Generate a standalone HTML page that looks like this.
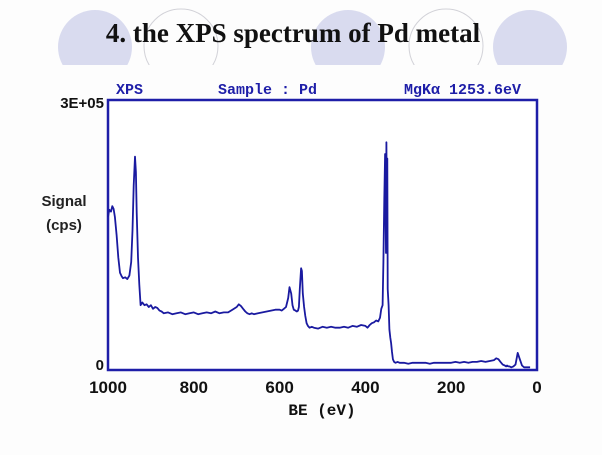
<!DOCTYPE html>
<html><head><meta charset="utf-8"><style>
body{margin:0;background:#fff;}
svg{display:block;}
</style></head><body>
<svg width="602" height="455" viewBox="0 0 602 455" xmlns="http://www.w3.org/2000/svg">
<rect x="0" y="0" width="602" height="455" fill="#fdfdfd"/>
<g>
<clipPath id="bc"><rect x="0" y="0" width="602" height="65"/></clipPath>
<g clip-path="url(#bc)">
<circle cx="95" cy="47" r="37" fill="#d9dbef"/>
<circle cx="181" cy="46" r="37" fill="none" stroke="#d2d2d8" stroke-width="1"/>
<circle cx="348" cy="47" r="37" fill="#d9dbef"/>
<circle cx="446" cy="46" r="37" fill="none" stroke="#d2d2d8" stroke-width="1"/>
<circle cx="530" cy="47" r="37" fill="#d9dbef"/>
</g>
</g>
<text x="293" y="42" text-anchor="middle" font-family="Liberation Serif, serif" font-weight="bold" font-size="27" fill="#111">4. the XPS spectrum of Pd metal</text>
<g font-family="Liberation Mono, monospace" font-weight="bold" font-size="15" fill="#1e1ea8">
<text x="116" y="94">XPS</text>
<text x="218" y="94">Sample : Pd</text>
<text x="404" y="94">MgKα 1253.6eV</text>
</g>
<g id="plot"></g>
</svg>
<script>
const be     = [1000,997,993,990,987,984,980,976,972,968,965,960,955,950,946,943,940,937,935,933,930,927,924,920,915,910,905,900,895,890,885,880,875,870,860,850,840,830,820,810,800,790,780,770,760,750,740,730,720,710,700,695,690,685,680,675,670,665,660,650,640,630,620,610,600,595,590,585,580,577,573,570,567,563,560,557,555,553,550,548,546,543,540,537,534,530,525,520,510,500,490,480,470,460,450,440,430,420,410,400,395,390,385,380,375,370,366,363,360,358,356,354,352,351,350,349,348,346,344,342,340,338,336,333,330,325,320,310,300,290,280,270,260,250,240,230,220,210,200,190,180,170,160,150,140,130,120,110,100,95,90,85,80,75,72,70,67,64,60,55,50,45,40,35,30,27,25,23,21,20,18,16,14,12,10,8,5,2,0];
const counts = [1.70,1.78,1.76,1.82,1.79,1.70,1.50,1.25,1.08,1.04,1.02,1.03,1.01,1.05,1.20,1.55,2.05,2.37,2.20,1.75,1.25,0.95,0.72,0.75,0.72,0.73,0.70,0.72,0.68,0.70,0.69,0.66,0.65,0.63,0.64,0.62,0.63,0.64,0.62,0.63,0.64,0.62,0.63,0.64,0.63,0.65,0.63,0.64,0.64,0.67,0.70,0.73,0.71,0.68,0.65,0.63,0.62,0.63,0.62,0.63,0.64,0.65,0.66,0.67,0.67,0.66,0.68,0.70,0.80,0.92,0.85,0.72,0.67,0.66,0.65,0.66,0.70,0.90,1.13,1.10,0.85,0.70,0.60,0.52,0.49,0.47,0.48,0.47,0.46,0.48,0.47,0.48,0.47,0.47,0.48,0.47,0.49,0.48,0.50,0.49,0.47,0.50,0.52,0.53,0.55,0.54,0.58,0.68,0.72,1.20,1.90,2.40,1.30,2.53,1.60,2.35,0.90,0.72,0.45,0.36,0.30,0.20,0.12,0.09,0.08,0.09,0.08,0.08,0.07,0.08,0.08,0.08,0.08,0.07,0.08,0.08,0.08,0.08,0.08,0.09,0.08,0.09,0.08,0.09,0.09,0.10,0.09,0.10,0.11,0.13,0.12,0.09,0.06,0.05,0.04,0.05,0.04,0.04,0.03,0.04,0.06,0.19,0.12,0.05,0.03,0.03,0.03,0.03,0.03,0.03,0.03,0.03];
const xTicks = [1000,800,600,400,200,0];
const xTickLabels = ["1000","800","600","400","200","0"];
const yTicks = [0,3];
const yTickLabels = ["0","3E+05"];

const L=108,R=537,T=100,B=370;
const xs=v=>L+(1000-v)/1000*(R-L);
const ys=v=>B-v/3*(B-T);
const NS="http://www.w3.org/2000/svg";
const g=document.getElementById('plot');
function mk(tag,attrs){const e=document.createElementNS(NS,tag);for(const k in attrs)e.setAttribute(k,attrs[k]);g.appendChild(e);return e;}

const frame=mk('rect',{x:L,y:T,width:R-L,height:B-T,fill:'#ffffff',stroke:'#1e1ea8','stroke-width':2.5});



let d='';
for(let i=0;i<be.length;i++){d+=(i?'L':'M')+xs(be[i]).toFixed(1)+','+ys(counts[i]).toFixed(1);}
const line=mk('path',{d:d,fill:'none',stroke:'#1a1aa0','stroke-width':1.8,'stroke-linejoin':'round'});



for(let i=0;i<xTicks.length;i++){
  const t=mk('text',{x:xs(xTicks[i]),y:393,'text-anchor':'middle','font-family':'Liberation Sans, sans-serif','font-weight':'bold','font-size':17,fill:'#111'});
  t.textContent=xTickLabels[i];
  
  
}
for(let i=0;i<yTicks.length;i++){
  const t=mk('text',{x:L-4,y:ys(yTicks[i])+(i==0?0:8),'text-anchor':'end','font-family':'Liberation Sans, sans-serif','font-weight':'bold','font-size':15,fill:'#111'});
  t.textContent=yTickLabels[i];
  
  
}
const yt1=mk('text',{x:64,y:206,'text-anchor':'middle','font-family':'Liberation Sans, sans-serif','font-weight':'bold','font-size':15,fill:'#222'});
yt1.textContent='Signal';


const yt2=mk('text',{x:64,y:230,'text-anchor':'middle','font-family':'Liberation Sans, sans-serif','font-weight':'bold','font-size':15,fill:'#222'});
yt2.textContent='(cps)';


const xt=mk('text',{x:322,y:415,'text-anchor':'middle','font-family':'Liberation Mono, monospace','font-weight':'bold','font-size':16,fill:'#111'});
xt.textContent='BE (eV)';


</script>
</body></html>
